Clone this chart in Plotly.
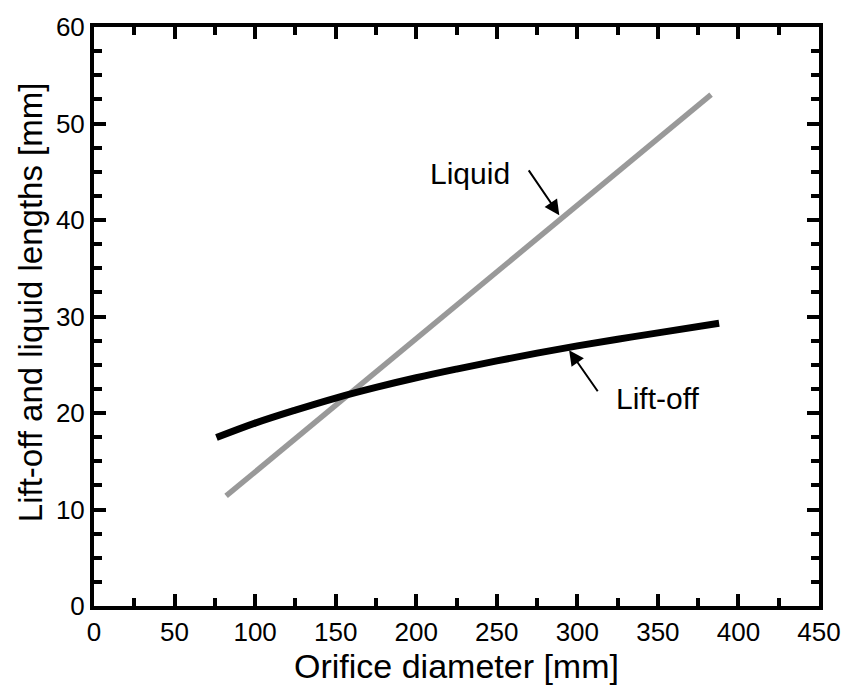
import plotly.graph_objects as go

liquid_x = [82, 383]
liquid_y = [11.4, 53.0]

liftoff_x = [76, 100, 125, 150, 175, 200, 225, 250, 275, 300, 325, 350, 388]
liftoff_y = [17.45, 18.95, 20.3, 21.55, 22.65, 23.65, 24.55, 25.4, 26.2, 26.95, 27.65, 28.3, 29.3]

x_ticks = [0, 50, 100, 150, 200, 250, 300, 350, 400, 450]
y_ticks = [0, 10, 20, 30, 40, 50, 60]

FONT = "Liberation Sans, Arial, sans-serif"

fig = go.Figure()
fig.add_trace(go.Scatter(x=liquid_x, y=liquid_y, mode="lines",
                         line=dict(color="#999999", width=5.5), showlegend=False))
fig.add_trace(go.Scatter(x=liftoff_x, y=liftoff_y, mode="lines", line_shape="spline",
                         line=dict(color="black", width=7), showlegend=False))

fig.add_annotation(x=288.8, y=40.5, ax=269.2, ay=45.3, xref="x", yref="y", axref="x", ayref="y",
                   showarrow=True, arrowhead=2, arrowsize=1.5, arrowwidth=2, arrowcolor="black", text="")
fig.add_annotation(x=233.6, y=44.8, text="Liquid", showarrow=False,
                   font=dict(family=FONT, size=30, color="black"))
fig.add_annotation(x=294.9, y=26.5, ax=313.3, ay=22.1, xref="x", yref="y", axref="x", ayref="y",
                   showarrow=True, arrowhead=2, arrowsize=1.5, arrowwidth=2, arrowcolor="black", text="")
fig.add_annotation(x=350, y=21.5, text="Lift-off", showarrow=False,
                   font=dict(family=FONT, size=30, color="black"))

# y-axis title (placed slightly above plot centre, as in the reference)
fig.add_annotation(x=-0.088, y=0.525, xref="paper", yref="paper", textangle=-90,
                   text="Lift-off and liquid lengths [mm]", showarrow=False,
                   xanchor="center", yanchor="middle",
                   font=dict(family=FONT, size=33, color="black"))

axis_common = dict(showgrid=False, zeroline=False, showline=True, linecolor="black", linewidth=4,
                   mirror="ticks", ticks="inside", ticklen=12, tickwidth=3.5, tickcolor="black",
                   tickfont=dict(family=FONT, size=26, color="black"))

fig.update_xaxes(range=[0, 450], tickvals=x_ticks,
                 minor=dict(ticks="inside", ticklen=8, tickwidth=3.5, dtick=25, tickcolor="black", showgrid=False),
                 title=dict(text="Orifice diameter [mm]", font=dict(family=FONT, size=34, color="black"), standoff=8),
                 **axis_common)
fig.update_yaxes(range=[0, 60], tickvals=y_ticks,
                 minor=dict(ticks="inside", ticklen=8, tickwidth=3.5, dtick=2.5, tickcolor="black", showgrid=False),
                 **axis_common)

fig.update_layout(width=853, height=691, margin=dict(l=94, r=26, t=19, b=84),
                  plot_bgcolor="white", paper_bgcolor="white")

fig.write_html("out.html")
